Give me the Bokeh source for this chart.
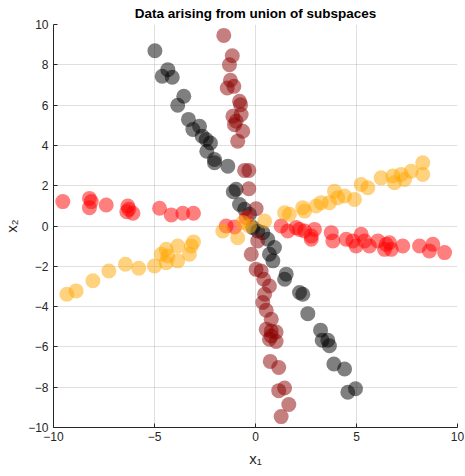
from bokeh.plotting import figure
from bokeh.embed import file_html
from bokeh.resources import INLINE
from bokeh.models import FixedTicker

# Black subspace
black_x = [-4.98, -4.34, -4.62, -4.12, -3.55, -3.85, -3.32, -2.77, -3.10, -2.64, -2.44, -2.23,
           -2.41, -2.03, -2.03, -1.37, -0.96, -1.10, -0.79, -0.54, -0.30, -0.13, 0.11, 0.36,
           0.61, 0.94, 0.69, 0.86, 1.52, 1.44, 2.18, 2.34, 2.59, 3.22, 3.30, 3.58, 3.66,
           3.88, 4.41, 4.57, 4.95]
black_y = [8.70, 7.76, 7.43, 7.38, 6.44, 5.99, 5.29, 4.95, 4.79, 4.46, 4.29, 4.12,
           3.71, 3.30, 3.14, 2.97, 1.82, 1.70, 1.07, 0.83, 0.58, -0.08, -0.25, -0.33,
           -0.66, -1.07, -1.40, -1.73, -2.39, -2.64, -3.30, -3.39, -4.35, -5.17, -5.67, -5.67, -5.94,
           -6.85, -7.10, -8.25, -8.08]

# Dark red subspace
darkred_x = [-1.57, -1.15, -1.29, -1.24, -1.40, -1.07, -0.79, -0.74, -1.12, -0.71, -0.96, -1.04,
             -0.63, -0.88, -0.54, -0.33, -0.33, 0.03, 0.11, -0.21, 0.03, 0.28, 0.41, 0.69,
             0.45, 0.36, 0.53, 0.78, 0.53, 0.78, 1.02, 0.78, 0.69, 1.02, 0.73, 1.15, 1.15,
             1.44, 1.65, 1.27]
darkred_y = [9.46, 8.45, 8.00, 7.23, 6.85, 6.93, 6.19, 6.02, 5.45, 5.53, 5.20, 5.03,
             4.70, 4.21, 2.76, 2.76, 1.85, 0.86, -0.74, -1.40, -2.15, -2.23, -2.64, -2.98,
             -3.39, -3.80, -4.18, -4.63, -5.13, -5.21, -5.26, -5.46, -5.62, -5.73, -6.72, -7.02, -8.17,
             -8.04, -8.86, -9.46]

# Red subspace
red_x = [-9.54, -8.22, -8.13, -8.22, -7.39, -6.32, -6.27, -6.37, -6.07, -4.75, -4.17, -3.60,
         -3.07, -1.45, -1.04, -0.46, 1.27, 1.60, 2.01, 2.18, 2.43, 2.76, 2.92, 2.76, 3.75,
         3.83, 4.49, 4.82, 5.23, 5.40, 4.98, 5.64, 6.06, 6.47, 6.63, 6.72, 6.39, 7.29, 8.12,
         8.61, 8.78, 9.36]
red_y = [1.21, 1.37, 1.21, 0.91, 1.04, 0.99, 0.83, 0.71, 0.63, 0.88, 0.55, 0.63,
         0.63, 0.00, -0.05, 0.41, 0.00, -0.25, -0.08, -0.17, -0.25, -0.50, -0.17, -0.66, -0.33,
         -0.74, -0.66, -0.74, -0.41, -0.74, -0.99, -0.99, -0.74, -0.91, -0.83, -1.16, -1.16, -0.99, -0.99,
         -1.24, -0.91, -1.32]

# Orange subspace
orange_x = [-9.34, -8.88, -8.05, -7.26, -6.44, -5.78, -5.00, -4.67, -4.42, -4.34, -4.42, -3.85,
            -3.85, -3.27, -3.18, -3.07, -1.62, -0.88, -0.63, -0.30, 0.45, 1.44, 1.68, 2.34,
            2.43, 3.00, 3.25, 3.66, 3.91, 4.07, 4.41, 4.90, 5.23, 5.56, 6.22, 6.80, 6.88,
            7.21, 7.38, 7.71, 8.28, 8.28]
orange_y = [-3.39, -3.22, -2.72, -2.23, -1.90, -2.10, -1.98, -1.40, -1.16, -1.49, -1.82, -0.99,
            -1.73, -1.40, -0.99, -0.79, -0.25, -0.58, 0.17, 0.00, 0.25, 0.66, 0.58, 0.91,
            0.74, 0.99, 1.16, 1.16, 1.73, 1.40, 1.49, 1.32, 2.06, 1.90, 2.39, 2.48, 2.15,
            2.56, 2.31, 2.72, 3.14, 2.56]

x_ticks = [-10, -5, 0, 5, 10]
y_ticks = [-10, -8, -6, -4, -2, 0, 2, 4, 6, 8, 10]

p = figure(frame_width=404, frame_height=403, x_range=(-10, 10), y_range=(-10, 10),
           output_backend="svg", toolbar_location=None,
           title="Data arising from union of subspaces",
           min_border_left=2, min_border_right=7, min_border_top=2, min_border_bottom=4)

p.title.align = "center"
p.title.text_font = "Liberation Sans"
p.title.text_font_size = "13.5px"
p.title.text_font_style = "bold"
p.title.text_color = "#000000"
p.title.standoff = 7

p.outline_line_color = None
p.background_fill_color = "white"

for s_x, s_y, col in [(black_x, black_y, "#000000"), (darkred_x, darkred_y, "#8b0000"),
                      (red_x, red_y, "#ff0000"), (orange_x, orange_y, "#ffa500")]:
    p.scatter(s_x, s_y, size=15, fill_color=col, fill_alpha=0.5, line_color=None)

p.xaxis.ticker = FixedTicker(ticks=x_ticks)
p.yaxis.ticker = FixedTicker(ticks=y_ticks)
p.xgrid.ticker = FixedTicker(ticks=x_ticks)
p.ygrid.ticker = FixedTicker(ticks=y_ticks)

for ax in (p.xaxis, p.yaxis):
    ax.axis_line_color = "#262626"
    ax.major_tick_line_color = "#262626"
    ax.major_tick_in = 4
    ax.major_tick_out = 0
    ax.minor_tick_line_color = None
    ax.major_label_text_font = "Liberation Sans"
    ax.major_label_text_font_size = "12px"
    ax.major_label_text_color = "#262626"
    ax.axis_label_text_font = "Liberation Sans"
    ax.axis_label_text_font_size = "15px"
    ax.axis_label_text_font_style = "normal"
    ax.axis_label_text_color = "#262626"

p.xaxis.axis_label = "x₁"
p.yaxis.axis_label = "x₂"
p.xaxis.major_label_standoff = 4
p.yaxis.major_label_standoff = 5
p.xaxis.axis_label_standoff = 6
p.yaxis.axis_label_standoff = 5

p.grid.grid_line_color = "#262626"
p.grid.grid_line_alpha = 0.15

open("out.html", "w").write(file_html(p, INLINE))
